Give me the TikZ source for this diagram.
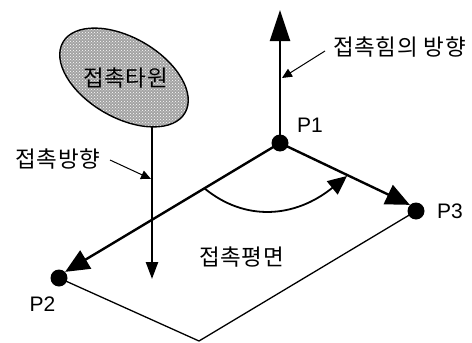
\documentclass[tikz,border=0pt]{standalone}
\usepackage{fontspec}
\setmainfont{Liberation Sans}
\newfontfamily\krfont[LetterSpace=3]{Noto Sans CJK KR}
\usetikzlibrary{arrows.meta,patterns}
\tikzset{
  dot/.style={circle,fill=black,inner sep=0pt,minimum size=17pt},
  lab/.style={inner sep=0pt,font=\fontsize{21}{21}\selectfont},
  kr/.style={inner sep=0pt,font=\krfont\fontsize{22.5}{23}\selectfont},
  thickline/.style={line width=2.4pt,draw=black},
  thinline/.style={line width=1.3pt,draw=black},
  bigtip/.style={-{Triangle[length=31pt,width=20pt]}},
  midtip/.style={-{Triangle[length=24pt,width=21pt]}},
  smalltip/.style={-{Triangle[length=10pt,width=9pt]}}
}
\begin{document}
\begin{tikzpicture}[x=1pt,y=-1pt]
\useasboundingbox (0,0) rectangle (472,343);
% points
\node[dot] (p1) at (280,143) {};
\node[dot] (p2) at (59,278) {};
\node[dot] (p3) at (416,211) {};
\coordinate (bot) at (199,341);
\coordinate (up) at (280,10);
\coordinate (etop) at (152,127);
\coordinate (ebot) at (152,279);
\coordinate (arcs) at (204,188);
\coordinate (arce) at (347,176);
\coordinate (l1s) at (110,160);
\coordinate (l1e) at (151,179);
\coordinate (l2s) at (325,51);
\coordinate (l2e) at (282,78);
% ellipse
\draw[line width=1.4pt,fill=gray!72,rotate around={-30:(124,77.5)}] (124,77.5) ellipse [x radius=70.5,y radius=40];
\path[pattern=crosshatch dots,pattern color=white,rotate around={-30:(124,77.5)}] (124,77.5) ellipse [x radius=69.5,y radius=39];
\node[kr] (t0) at (125.5,78) {접촉타원};
% plane outline
\draw[thinline] (p2.center) -- (bot) -- (p3.center);
% vertical contact direction
\draw[thickline,-{Triangle[length=17pt,width=12pt]}] (etop) -- (ebot);
% axes
\draw[thickline,bigtip] (p1.center) -- (up);
\draw[thickline,midtip] (p1.center) -- (p2.north east);
\draw[thickline,midtip] (p1.center) -- (p3.north west);
% arc
\draw[line width=1.8pt,-{Triangle[length=19pt,width=17pt]}] (arcs) .. controls (245,222) and (295,218) .. (arce);
% leaders
\draw[line width=1pt,smalltip] (l1s) -- (l1e);
\draw[line width=1pt,smalltip] (l2s) -- (l2e);
% labels
\node[lab] (n1) at (310,125) {P1};
\node[lab] (n2) at (42.5,304) {P2};
\node[lab] (n3) at (450,211) {P3};
\node[kr] (t1) at (58,159) {접촉방향};
\node[kr] (t2) at (399.5,47) {접촉힘의 방향};
\node[kr] (t3) at (241.5,257) {접촉평면};
\end{tikzpicture}
\end{document}
